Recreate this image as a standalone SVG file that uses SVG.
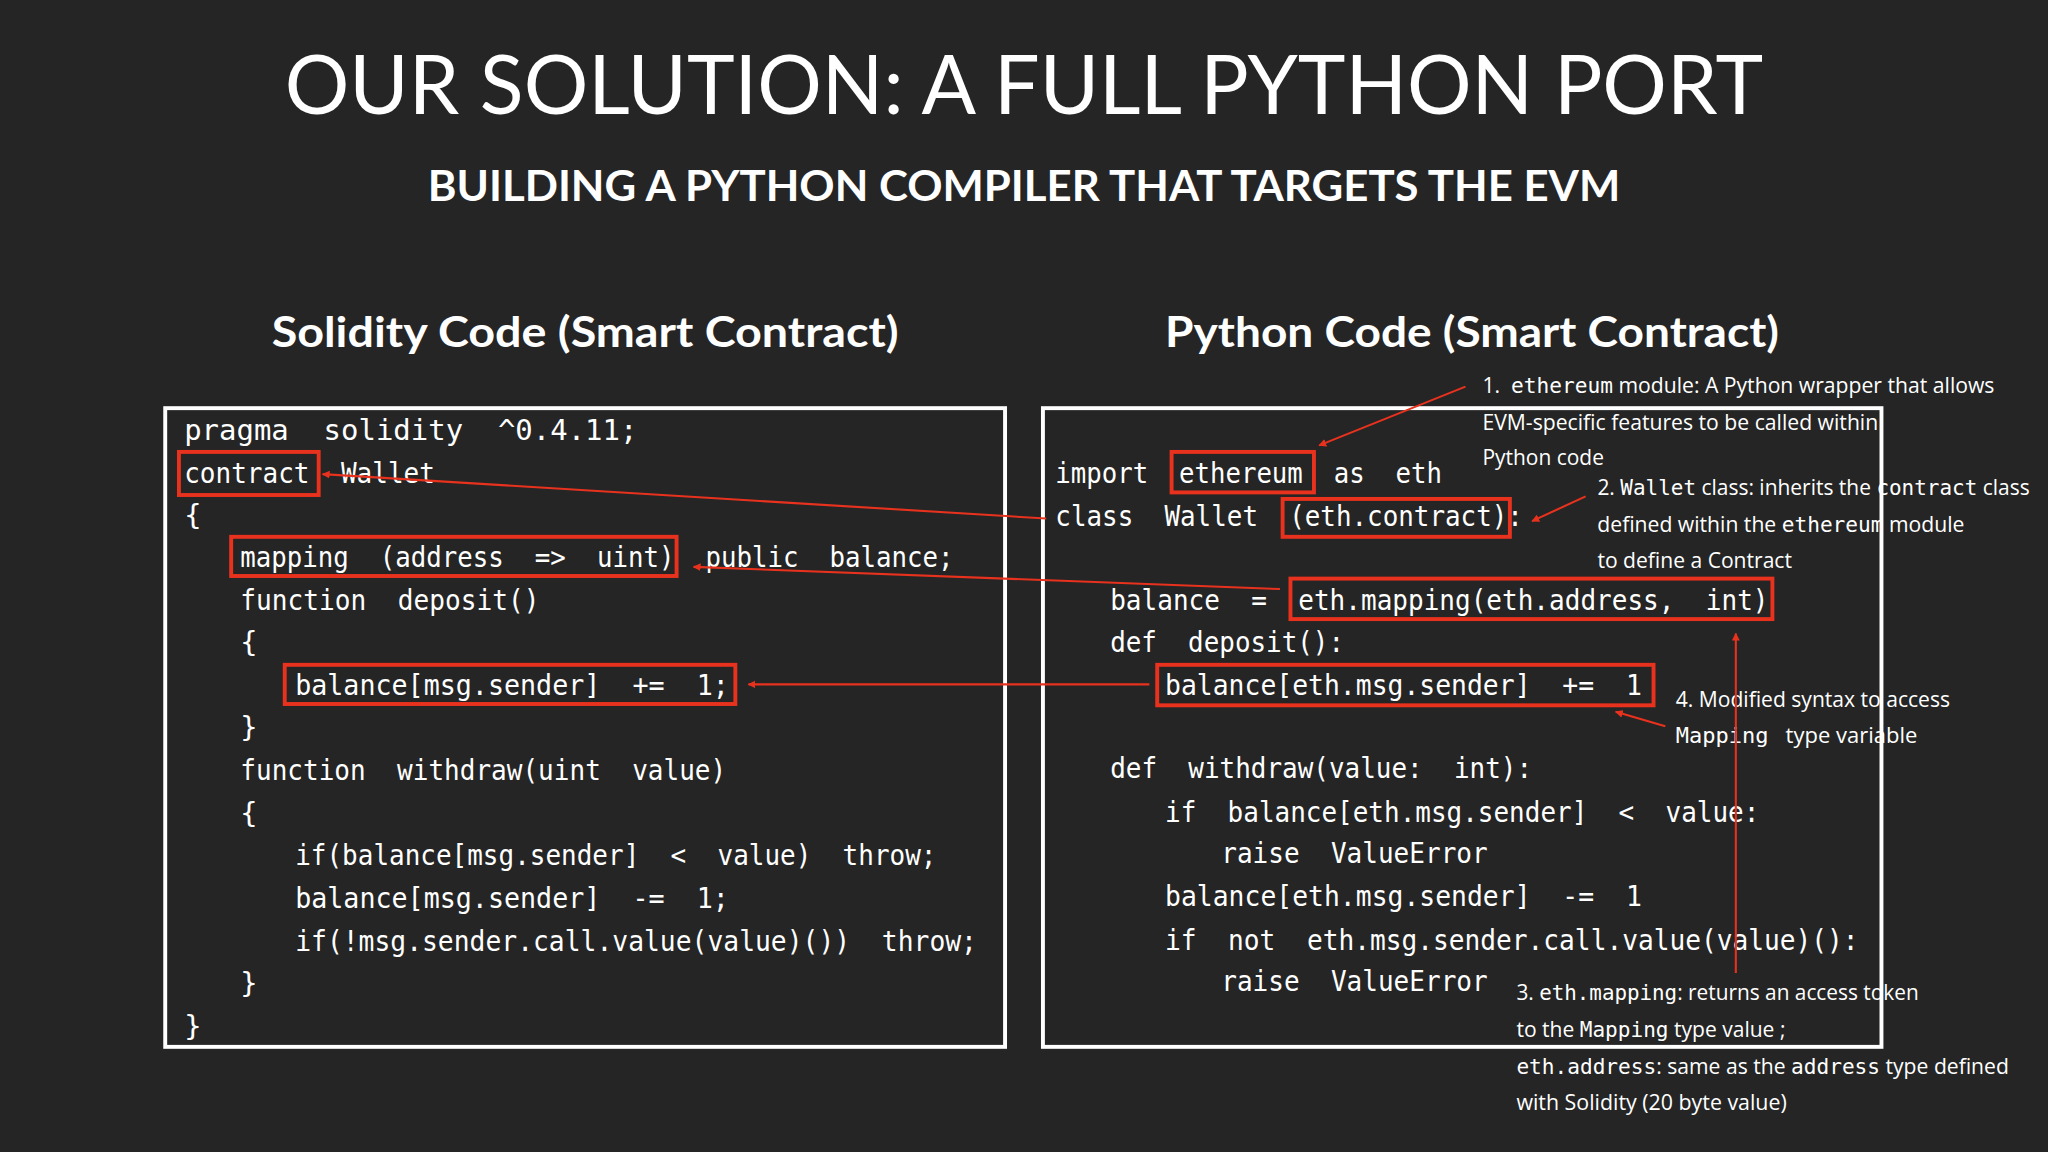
<svg xmlns="http://www.w3.org/2000/svg" width="2048" height="1152" viewBox="0 0 2048 1152">
<style>
.t{font-family:Lato,"Open Sans",sans-serif;fill:#fff}
.c{font-family:"DejaVu Sans Mono","Liberation Mono",monospace;font-size:22px;fill:#fff;white-space:pre}
.a{font-family:"Open Sans","Noto Sans",sans-serif;font-size:16px;fill:#fff;white-space:pre}
.m{font-family:"DejaVu Sans Mono",monospace}
.box{fill:none;stroke:#fff;stroke-width:3}
.rb{fill:none;stroke:#e8321e;stroke-width:3}
.ar{fill:none;stroke:#e8321e;stroke-width:1.6;marker-end:url(#h)}
</style>
<defs><marker id="h" viewBox="0 0 10 10" refX="9" refY="5" markerWidth="6" markerHeight="6" orient="auto" markerUnits="userSpaceOnUse"><path d="M0,0L10,5L0,10z" fill="#e8321e"/></marker></defs>
<rect width="2048" height="1152" fill="#252525"/>
<g transform="scale(1.30612)">
<g id="titles">
<text class="t" x="784" y="87" text-anchor="middle" font-size="62" textLength="1132" lengthAdjust="spacingAndGlyphs">OUR SOLUTION: A FULL PYTHON PORT</text>
<text class="t" x="784" y="154" text-anchor="middle" font-size="32" font-weight="bold" textLength="913" lengthAdjust="spacingAndGlyphs">BUILDING A PYTHON COMPILER THAT TARGETS THE EVM</text>
<text class="t" x="448" y="266" text-anchor="middle" font-size="32" font-weight="bold" textLength="480" lengthAdjust="spacingAndGlyphs">Solidity Code (Smart Contract)</text>
<text class="t" x="1127" y="266" text-anchor="middle" font-size="32" font-weight="bold" textLength="470" lengthAdjust="spacingAndGlyphs">Python Code (Smart Contract)</text>
</g>
<g id="solidity">
<rect class="box" x="126.5" y="312.5" width="643" height="489"/>
<text class="c" x="141" y="337" textLength="347" lengthAdjust="spacingAndGlyphs">pragma  solidity  ^0.4.11;</text>
<text class="c" x="141" y="370" textLength="192" lengthAdjust="spacingAndGlyphs">contract  Wallet</text>
<text class="c" x="141" y="402">{</text>
<text class="c" x="184" y="434" textLength="546" lengthAdjust="spacingAndGlyphs">mapping  (address  =&gt;  uint)  public  balance;</text>
<text class="c" x="184" y="467" textLength="229" lengthAdjust="spacingAndGlyphs">function  deposit()</text>
<text class="c" x="184" y="499">{</text>
<text class="c" x="226" y="532" textLength="332" lengthAdjust="spacingAndGlyphs">balance[msg.sender]  +=  1;</text>
<text class="c" x="184" y="564">}</text>
<text class="c" x="184" y="597" textLength="372" lengthAdjust="spacingAndGlyphs">function  withdraw(uint  value)</text>
<text class="c" x="184" y="630">{</text>
<text class="c" x="226" y="662" textLength="491" lengthAdjust="spacingAndGlyphs">if(balance[msg.sender]  &lt;  value)  throw;</text>
<text class="c" x="226" y="695" textLength="332" lengthAdjust="spacingAndGlyphs">balance[msg.sender]  -=  1;</text>
<text class="c" x="226" y="728" textLength="522" lengthAdjust="spacingAndGlyphs">if(!msg.sender.call.value(value)())  throw;</text>
<text class="c" x="184" y="760">}</text>
<text class="c" x="141" y="793">}</text>
<rect class="rb" x="137" y="346" width="107" height="33"/>
<rect class="rb" x="177" y="411" width="341" height="30"/>
<rect class="rb" x="218" y="509" width="345" height="30"/>
</g>
<g id="python">
<rect class="box" x="798.5" y="312.5" width="642" height="489"/>
<text class="c" x="808" y="370" textLength="296" lengthAdjust="spacingAndGlyphs">import  ethereum  as  eth</text>
<text class="c" x="808" y="403" textLength="358" lengthAdjust="spacingAndGlyphs">class  Wallet  (eth.contract):</text>
<text class="c" x="850" y="467" textLength="504" lengthAdjust="spacingAndGlyphs">balance  =  eth.mapping(eth.address,  int)</text>
<text class="c" x="850" y="499" textLength="179" lengthAdjust="spacingAndGlyphs">def  deposit():</text>
<text class="c" x="892" y="532" textLength="365" lengthAdjust="spacingAndGlyphs">balance[eth.msg.sender]  +=  1</text>
<text class="c" x="850" y="596" textLength="323" lengthAdjust="spacingAndGlyphs">def  withdraw(value:  int):</text>
<text class="c" x="892" y="629" textLength="455" lengthAdjust="spacingAndGlyphs">if  balance[eth.msg.sender]  &lt;  value:</text>
<text class="c" x="935" y="661" textLength="204" lengthAdjust="spacingAndGlyphs">raise  ValueError</text>
<text class="c" x="892" y="694" textLength="365" lengthAdjust="spacingAndGlyphs">balance[eth.msg.sender]  -=  1</text>
<text class="c" x="892" y="727" textLength="531" lengthAdjust="spacingAndGlyphs">if  not  eth.msg.sender.call.value(value)():</text>
<text class="c" x="935" y="759" textLength="204" lengthAdjust="spacingAndGlyphs">raise  ValueError</text>
<rect class="rb" x="897" y="346" width="109" height="31"/>
<rect class="rb" x="982" y="382" width="174" height="29"/>
<rect class="rb" x="988" y="443" width="369" height="31"/>
<rect class="rb" x="886" y="509" width="380" height="31"/>
</g>
<g id="notes">
<text class="a" x="1135" y="301" textLength="392" lengthAdjust="spacingAndGlyphs">1.  <tspan class="m">ethereum</tspan> module: A Python wrapper that allows</text>
<text class="a" x="1135" y="329" textLength="303" lengthAdjust="spacingAndGlyphs">EVM-specific features to be called within</text>
<text class="a" x="1135" y="356" textLength="93" lengthAdjust="spacingAndGlyphs">Python code</text>
<text class="a" x="1223" y="379" textLength="331" lengthAdjust="spacingAndGlyphs">2. <tspan class="m">Wallet</tspan> class: inherits the <tspan class="m">contract</tspan> class</text>
<text class="a" x="1223" y="407" textLength="281" lengthAdjust="spacingAndGlyphs">defined within the <tspan class="m">ethereum</tspan> module</text>
<text class="a" x="1223" y="435" textLength="149" lengthAdjust="spacingAndGlyphs">to define a Contract</text>
<text class="a" x="1283" y="541" textLength="210" lengthAdjust="spacingAndGlyphs">4. Modified syntax to access</text>
<text class="a" x="1283" y="569" textLength="185" lengthAdjust="spacingAndGlyphs"><tspan class="m">Mapping</tspan>   type variable</text>
<text class="a" x="1161" y="766" textLength="308" lengthAdjust="spacingAndGlyphs">3. <tspan class="m">eth.mapping</tspan>: returns an access token</text>
<text class="a" x="1161" y="794" textLength="206" lengthAdjust="spacingAndGlyphs">to the <tspan class="m">Mapping</tspan> type value ;</text>
<text class="a" x="1161" y="822" textLength="377" lengthAdjust="spacingAndGlyphs"><tspan class="m">eth.address</tspan>: same as the <tspan class="m">address</tspan> type defined</text>
<text class="a" x="1161" y="850" textLength="207" lengthAdjust="spacingAndGlyphs">with Solidity (20 byte value)</text>
</g>
<g id="connectors">
<path class="ar" d="M801,397L247,363"/>
<path class="ar" d="M980,451L531,434"/>
<path class="ar" d="M880,524L573,524"/>
<path class="ar" d="M1122,296L1010,341"/>
<path class="ar" d="M1214,380L1173,399"/>
<path class="ar" d="M1275,556L1237,545"/>
<path class="ar" d="M1329,745L1329,485"/>
</g>
</g>
</svg>
